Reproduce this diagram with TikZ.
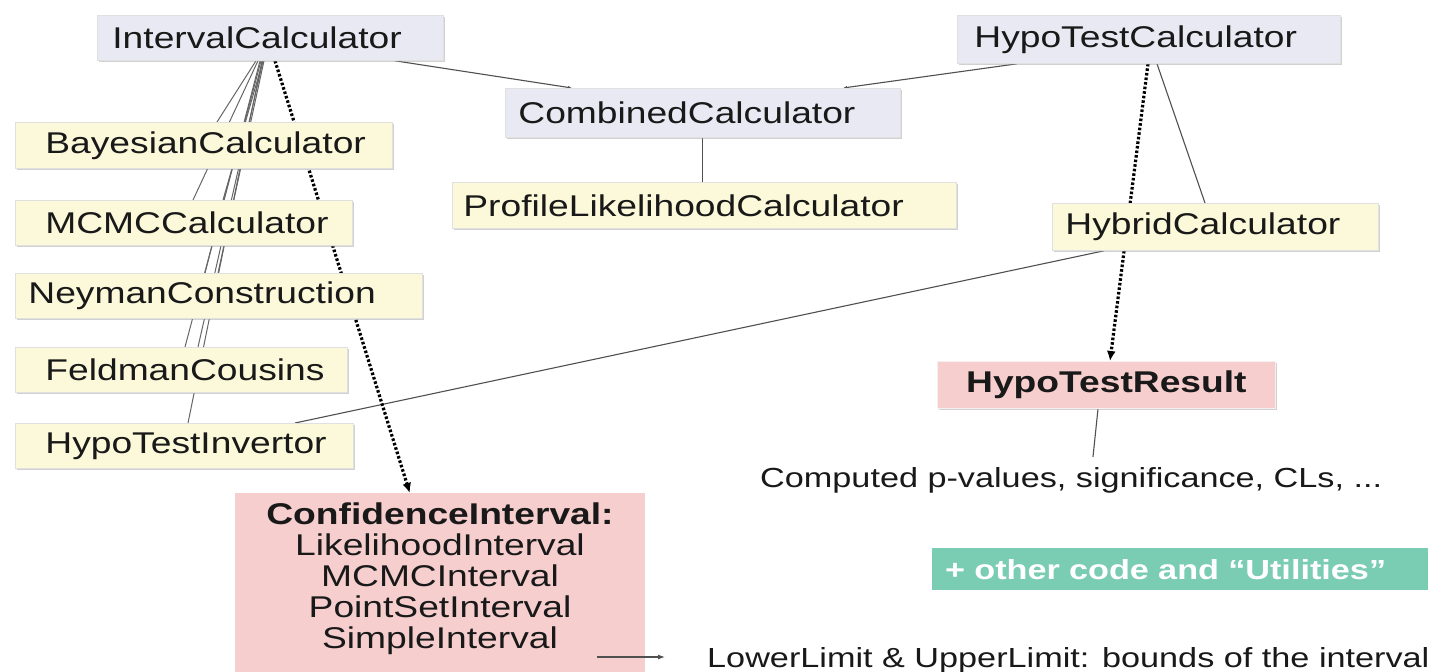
\documentclass[tikz,border=0pt]{standalone}
\usepackage{fontspec}
\setmainfont[FakeStretch=1.24]{Liberation Sans}
\usetikzlibrary{calc,arrows.meta,backgrounds,shadows}
\definecolor{lav}{RGB}{233,233,243}
\definecolor{cream}{RGB}{251,249,217}
\definecolor{pinkc}{RGB}{246,206,206}
\definecolor{greenc}{RGB}{122,204,178}
\definecolor{inkc}{RGB}{25,25,25}
\definecolor{linec}{RGB}{80,80,80}
\newcommand\bxfont{\fontsize{30pt}{31pt}\selectfont}
\newcommand\anfont{\fontsize{27.6pt}{30pt}\selectfont}
\begin{document}
\begin{tikzpicture}[x=1pt,y=-1pt,
  basebox/.style={rectangle, draw=black!12, line width=0.8pt, inner ysep=2pt,
    anchor=north west, align=left, font=\bxfont, text=inkc,
    drop shadow={shadow xshift=1.2pt,shadow yshift=-1.8pt,fill=black!40,opacity=0.45}},
  lbox/.style={basebox, fill=lav},
  ybox/.style={basebox, fill=cream},
  conn/.style={draw=linec, line width=1.1pt},
  fan/.style={draw=black!60, line width=1pt},
  smalltip/.style={-{Latex[length=4pt,width=3pt]}},
  dotarrow/.style={draw=black, line width=3.2pt, dash pattern=on 2.6pt off 2pt,
    -{Latex[length=10pt,width=9pt]}},
  note/.style={anchor=base west, inner sep=0pt, font=\anfont, text=inkc}
]
\path[use as bounding box] (0,0) rectangle (1430,672);

% top blue-grey boxes
\node[lbox, text width=316pt, inner xsep=15pt, minimum height=45pt] (ic) at (97,15) {IntervalCalculator};
\node[lbox, text width=349pt, inner xsep=17pt, minimum height=48pt] (htc) at (957,15) {HypoTestCalculator};
\node[lbox, text width=369pt, inner xsep=13pt, minimum height=49pt] (cc) at (505,88) {CombinedCalculator};

% yellow boxes
\node[ybox, text width=482pt, inner xsep=11pt, minimum height=46pt] (plc) at (452,182) {ProfileLikelihoodCalculator};
\node[ybox, text width=317pt, inner xsep=30pt, minimum height=46pt] (bay) at (15,122) {BayesianCalculator};
\node[ybox, text width=277pt, inner xsep=30pt, minimum height=45pt] (mcmc) at (15,200) {MCMCCalculator};
\node[ybox, text width=381pt, inner xsep=13pt, minimum height=45pt] (ney) at (15,273) {NeymanConstruction};
\node[ybox, text width=272pt, inner xsep=30pt, minimum height=45pt] (feld) at (15,347) {FeldmanCousins};
\node[ybox, text width=278pt, inner xsep=30pt, minimum height=45pt] (hti) at (15,423) {HypoTestInvertor};
\node[ybox, text width=300pt, inner xsep=13pt, minimum height=47pt] (hyb) at (1052,203) {HybridCalculator};

% result boxes
\node[basebox, fill=pinkc, draw=pinkc!85!black!20, align=center, text width=318pt, inner xsep=10pt,
  minimum height=47pt, font=\bxfont\bfseries] (htr) at (937,361) {HypoTestResult};
\node[fill=pinkc, anchor=north, text width=390pt, inner xsep=10pt, inner ysep=10pt,
  align=center, font=\bxfont, text=inkc] (ci) at (440,493)
  {\textbf{ConfidenceInterval:}\\LikelihoodInterval\\MCMCInterval\\PointSetInterval\\SimpleInterval};
\fill[pinkc] (ci.south west) rectangle ($(ci.south east)+(0,40)$);

% green box
\node[anchor=north west, fill=greenc, minimum height=42pt, text width=470pt, inner xsep=13pt,
  inner ysep=2pt, align=left, text=white, font=\anfont\bfseries] (util) at (932,548)
  {+ other code and “Utilities”};

% notes
\node[note] (comp) at (760,487) {Computed p-values, significance, CLs, ...};
\node[note] (low) at (707,667) {LowerLimit \& UpperLimit: bounds of the interval};

% arrow from CI to LowerLimit
\coordinate (ls) at (597,657);
\draw[conn, -{Latex[length=7pt,width=5pt]}] (ls) -- ($(low.west |- ls)+(-42,0)$);

\begin{pgfonlayer}{background}
\fill[white] (0,0) rectangle (1430,672);
% combined calculator links
\draw[conn, smalltip] ($(ic.south west)+(298,0)$) -- ($(cc.north west)+(67,0)$);
\draw[conn, smalltip] ($(htc.south west)+(60,0)$) -- ($(cc.north west)+(338,0)$);
\draw[conn] (cc.south) -- (cc.south |- plc.north);
% hypotest calculator links
\draw[conn] ($(htc.south west)+(200,0)$) -- ($(hyb.north west)+(153,0)$);
\draw[dotarrow] ($(htc.south west)+(191,0)$) -- ($(htr.north west)+(173,0)$);
\draw[conn] ($(hyb.south west)+(52,0)$) -- ($(hti.north west)+(280,0)$);
% interval calculator fan
\draw[dotarrow] ($(ic.south west)+(178,0)$) -- ($(ci.north west)+(175,0)$);
\draw[fan] ($(ic.south west)+(159,0)$) -- ($(bay.north west)+(202,0)$);
\draw[fan] ($(ic.south west)+(161,0)$) -- ($(mcmc.north west)+(178,0)$);
\draw[fan] ($(ic.south west)+(166,0)$) -- ($(mcmc.north west)+(208,0)$);
\draw[fan] ($(ic.south west)+(163,0)$) -- ($(ney.north west)+(190,0)$);
\draw[fan] ($(ic.south west)+(167,0)$) -- ($(ney.north west)+(203,0)$);
\draw[fan] ($(ic.south west)+(164,0)$) -- ($(feld.north west)+(170,0)$);
\draw[fan] ($(ic.south west)+(166,0)$) -- ($(feld.north west)+(183,0)$);
\draw[fan] ($(ic.south west)+(165,0)$) -- ($(hti.north west)+(173,0)$);
% result to note
\draw[conn] ($(htr.south west)+(161,0)$) -- ($(comp.north west)+(333,-10)$);
\end{pgfonlayer}
\end{tikzpicture}
\end{document}
